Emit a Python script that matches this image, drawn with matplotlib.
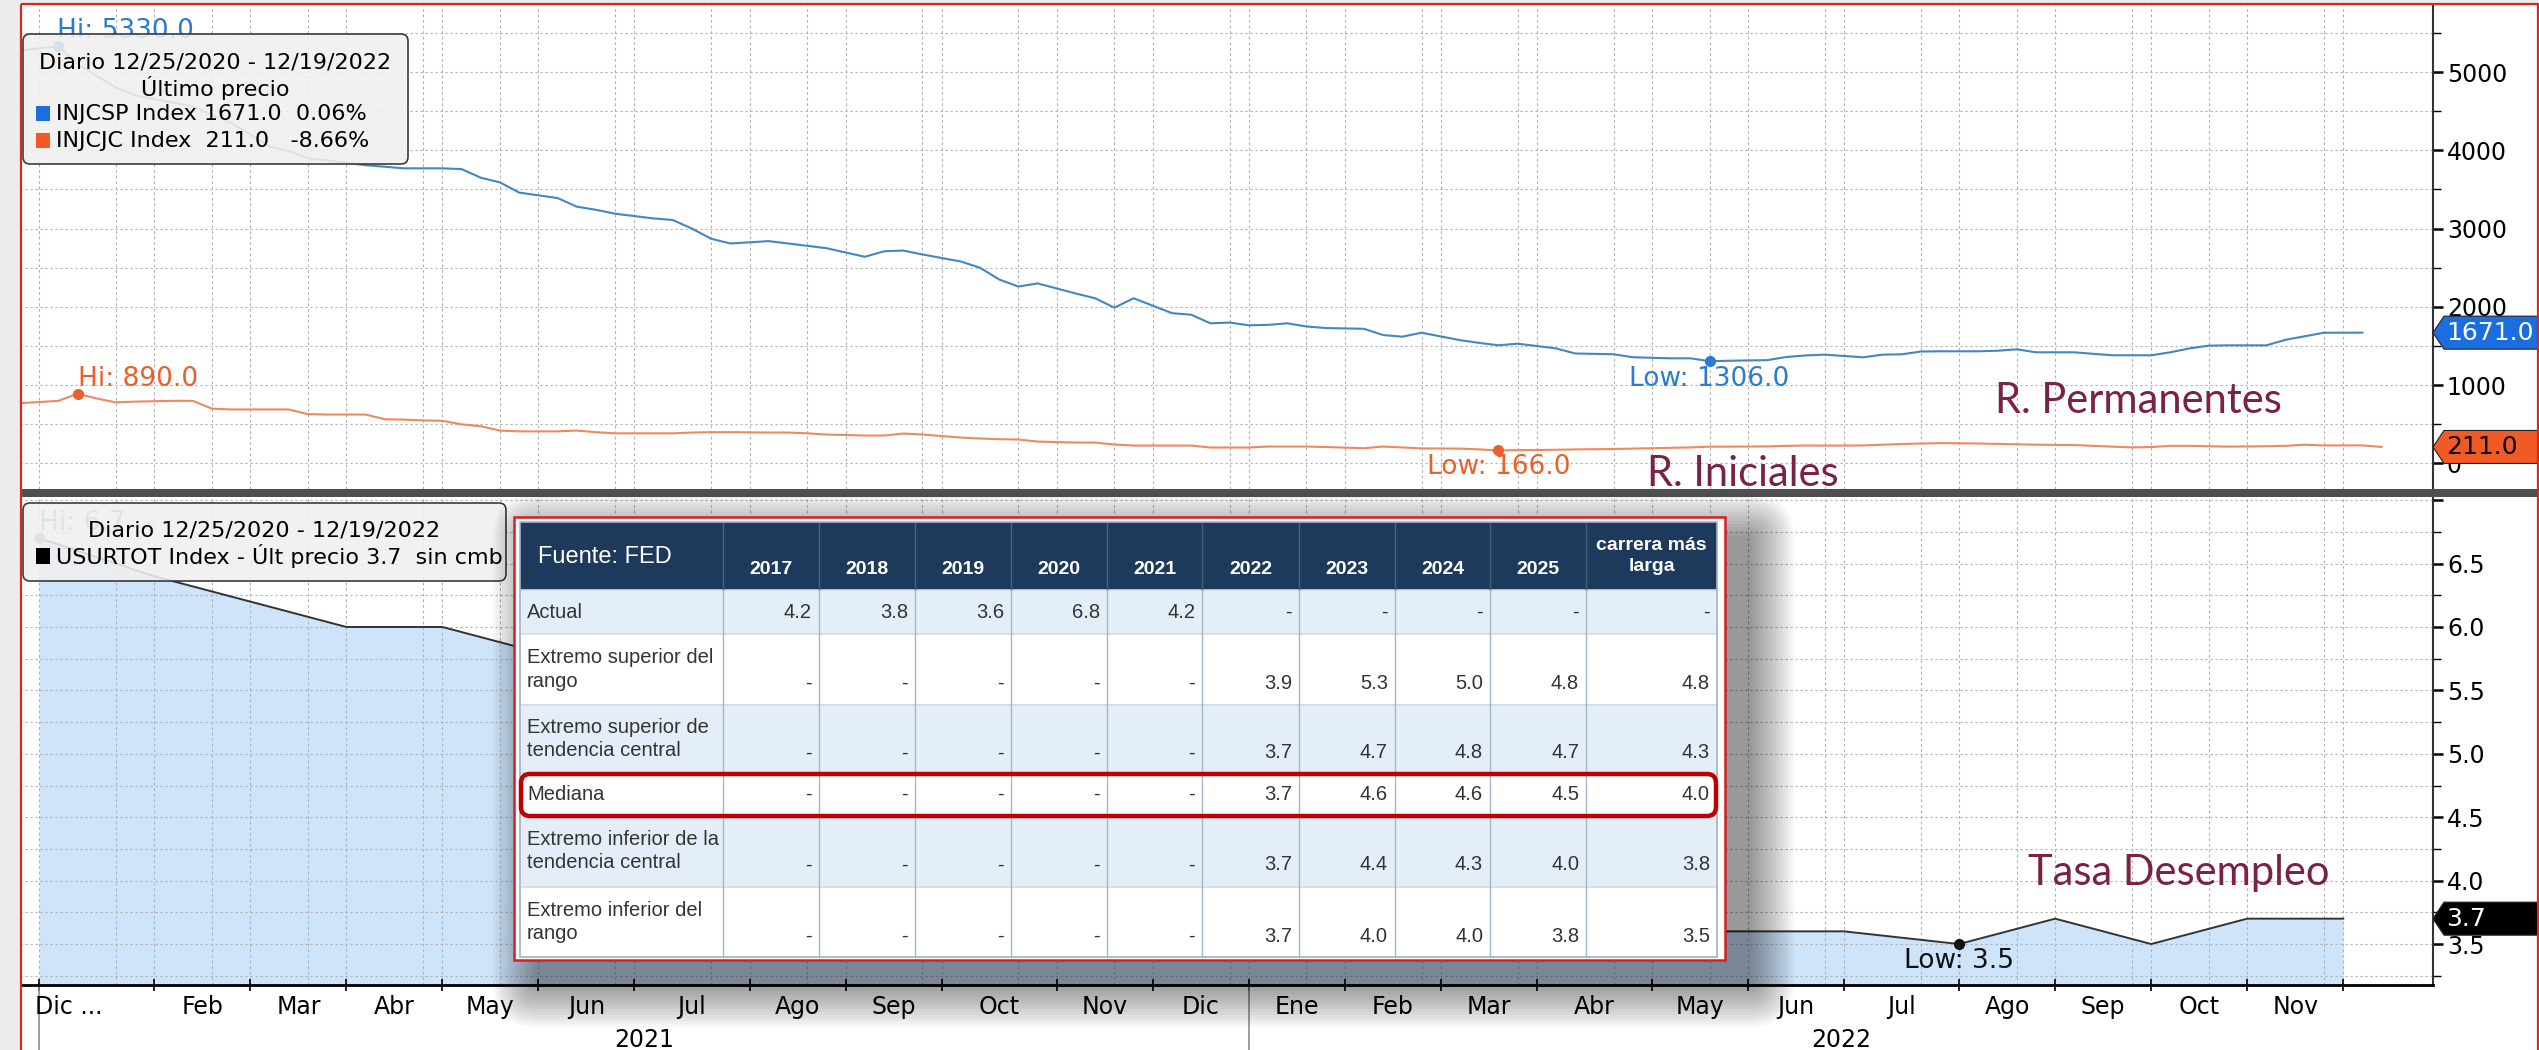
import datetime as dt
import numpy as np
import matplotlib
matplotlib.use("Agg")
import matplotlib.pyplot as plt
from matplotlib.patches import Rectangle, FancyBboxPatch, Polygon
from matplotlib.ticker import MultipleLocator, FixedLocator, FuncFormatter

W, H = 2539, 1050

# ---------------------------------------------------------------- datos
START = dt.date(2020, 12, 25)
END = dt.date(2022, 12, 19)

# INJCSP Index (reclamos permanentes, miles) - semanal, viernes desde 25/12/2020
injcsp = [
    5275, 5330, 5100, 4950, 4800, 4700, 4610, 4560, 4450, 4350,
    4050, 3990, 3900, 3870, 3810, 3790, 3770, 3770, 3770, 3760,
    3650, 3590, 3460, 3390, 3280, 3240, 3190, 3130, 3110, 3000,
    2870, 2810, 2840, 2810, 2780, 2750, 2640, 2710, 2720, 2670,
    2580, 2500, 2350, 2260, 2300, 2170, 2110, 1990, 2110, 1920,
    1900, 1790, 1800, 1765, 1770, 1790, 1750, 1730, 1720, 1640,
    1620, 1670, 1575, 1540, 1510, 1530, 1470, 1405, 1400, 1395,
    1357, 1343, 1343, 1306, 1312, 1320, 1360, 1380, 1390, 1356,
    1390, 1394, 1430, 1433, 1433, 1440, 1458, 1420, 1420, 1400,
    1382, 1382, 1382, 1420, 1470, 1505, 1509, 1509, 1580, 1625,
    1670, 1671,
]
# INJCJC Index (reclamos iniciales, miles) - semanal, viernes desde 25/12/2020
injcjc = [
    770, 800, 890, 830, 780, 790, 800, 800, 700, 690,
    690, 690, 630, 625, 625, 565, 560, 550, 545, 500,
    475, 420, 410, 410, 420, 400, 385, 385, 385, 395,
    400, 400, 395, 395, 385, 370, 357, 357, 382, 370,
    331, 319, 310, 306, 280, 267, 267, 242, 229, 229,
    229, 204, 204, 204, 216, 216, 216, 210, 195, 216,
    205, 192, 190, 180, 166, 170, 175, 180, 182, 185,
    190, 200, 205, 215, 215, 218, 225, 230, 228, 230,
    240, 248, 255, 260, 255, 250, 245, 240, 235, 225,
    215, 205, 210, 225, 225, 220, 215, 220, 225, 240,
    230, 231, 211,
]
# USURTOT Index (tasa de desempleo, %) - mensual, fin de mes desde dic-2020
usurtot = [6.7, 6.4, 6.2, 6.0, 6.0, 5.8, 5.9, 5.4, 5.2, 4.7, 4.5, 4.2,
           3.9, 4.0, 3.8, 3.6, 3.6, 3.6, 3.6, 3.5, 3.7, 3.5, 3.7, 3.7]

month_names = ["Ene", "Feb", "Mar", "Abr", "May", "Jun",
               "Jul", "Ago", "Sep", "Oct", "Nov", "Dic"]

# Proyecciones FED de la tasa de desempleo
fed_cols = ["2017", "2018", "2019", "2020", "2021", "2022", "2023", "2024",
            "2025", "carrera más\nlarga"]
fed_labels = ["Actual", "Extremo superior del\nrango",
              "Extremo superior de\ntendencia central", "Mediana",
              "Extremo inferior de la\ntendencia central",
              "Extremo inferior del\nrango"]
fed_actual = [4.2, 3.8, 3.6, 6.8, 4.2, None, None, None, None, None]
fed_sup_rango = [None] * 5 + [3.9, 5.3, 5.0, 4.8, 4.8]
fed_sup_tend = [None] * 5 + [3.7, 4.7, 4.8, 4.7, 4.3]
fed_mediana = [None] * 5 + [3.7, 4.6, 4.6, 4.5, 4.0]
fed_inf_tend = [None] * 5 + [3.7, 4.4, 4.3, 4.0, 3.8]
fed_inf_rango = [None] * 5 + [3.7, 4.0, 4.0, 3.8, 3.5]
fed_rows = [fed_actual, fed_sup_rango, fed_sup_tend, fed_mediana,
            fed_inf_tend, fed_inf_rango]


# ------------------------------------------- calendario de observaciones
def month_end(d):
    nxt = d.replace(day=28) + dt.timedelta(days=4)
    return nxt - dt.timedelta(days=nxt.day)


cal = {END}
d = START
while d <= END:
    if d.weekday() == 4 or d == month_end(d):
        cal.add(d)
    d += dt.timedelta(days=1)
cal = sorted(cal)
pos = {d: i for i, d in enumerate(cal)}
fridays = [d for d in cal if d.weekday() == 4]
month_ends = [d for d in cal if d == month_end(d)]

x_csp = [pos[d] for d in fridays[:len(injcsp)]]
x_cjc = [pos[d] for d in fridays[:len(injcjc)]]
x_ur = [pos[d] for d in month_ends[:len(usurtot)]]
month_ticks = [pos[d] for d in month_ends]
mid_ticks = [pos[d] for d in fridays if 19 <= d.day <= 25]

# ------------------------------------------------------------- estilo
TABLE_FONT = "Liberation Sans"
ANNOT = "Lato"

BLUE_LINE = "#4387c2"
BLUE_TXT = "#2b7bd1"
ORANGE_LINE = "#ec8a5e"
ORANGE_TXT = "#e8612c"
MAROON = "#7a2146"
GRID = "#b2b2b2"

fig = plt.figure(figsize=(W / 100, H / 100), dpi=100)
fig.patch.set_facecolor("white")

AX_L, AX_R = 20, 2433


def frect(x0, y0, x1, y1):
    return [x0 / W, 1 - y1 / H, (x1 - x0) / W, (y1 - y0) / H]


ax1 = fig.add_axes(frect(AX_L, 5, AX_R, 489))
ax2 = fig.add_axes(frect(AX_L, 497, AX_R, 985), sharex=ax1)

ax1.set_xlim(0, (AX_R - AX_L) / 19.2)
ax1.set_ylim(-326, 5856)
ax2.set_ylim(3.177, 7.025)

for ax in (ax1, ax2):
    ax.set_facecolor("white")
    for s in ("left", "top"):
        ax.spines[s].set_visible(False)
    ax.spines["right"].set_color("#333333")
    ax.spines["right"].set_linewidth(1.5)
    ax.yaxis.tick_right()
    for x in month_ticks + mid_ticks:
        ax.axvline(x, color=GRID, ls=(0, (2.5, 2.5)), lw=0.8, zorder=1.5)
ax1.spines["bottom"].set_visible(False)
ax2.spines["bottom"].set_color("black")
ax2.spines["bottom"].set_linewidth(2)

# panel superior: reclamos
for v in np.arange(0, 6000, 500):
    ax1.axhline(v, color=GRID, ls=(0, (2, 2.5)), lw=0.8, zorder=1.5)
ax1.plot(x_csp, injcsp, color=BLUE_LINE, lw=1.5, zorder=3)
ax1.plot(x_cjc, injcjc, color=ORANGE_LINE, lw=1.5, zorder=3)
ax1.yaxis.set_major_locator(MultipleLocator(1000))
ax1.yaxis.set_minor_locator(MultipleLocator(500))
ax1.yaxis.set_major_formatter(FuncFormatter(lambda v, p: f"{v:.0f}"))
ax1.tick_params(axis="x", which="both", bottom=False, labelbottom=False)

# panel inferior: desempleo
for v in np.arange(3.25, 7.01, 0.25):
    ax2.axhline(v, color=GRID, ls=(0, (2, 2.5)), lw=0.8, zorder=1.5)
ax2.fill_between(x_ur, usurtot, 0, color="#cde4fb", lw=0, zorder=1)
ax2.plot(x_ur, usurtot, color="#333333", lw=1.4, zorder=3)
ax2.yaxis.set_major_locator(FixedLocator(np.arange(3.5, 7.01, 0.5)))
ax2.yaxis.set_minor_locator(MultipleLocator(0.25))
ax2.yaxis.set_major_formatter(FuncFormatter(lambda v, p: "" if v > 6.9 else f"{v:.1f}"))
ax2.set_xticks(month_ticks)
ax2.tick_params(axis="x", which="major", length=8, width=1.2, direction="inout",
                labelbottom=False)

for ax in (ax1, ax2):
    ax.tick_params(axis="y", which="major", length=7, width=1.8, pad=3,
                   labelsize=17, colors="black")
    ax.tick_params(axis="y", which="minor", length=6, width=1.0)

# etiquetas de meses y años
xt = ax2.get_xaxis_transform()
ax2.text(month_ticks[0] - 0.2, -0.045, "Dic ...", transform=xt, ha="left",
         va="center", fontsize=17)
for a, b in zip(month_ends[1:-1], month_ends[2:]):
    ax2.text((pos[a] + pos[b]) / 2, -0.045, month_names[b.month - 1],
             transform=xt, ha="center", va="center", fontsize=17)
year_starts = [pos[d] for d in month_ends if d.month == 12]
year_bounds = year_starts + [ax1.get_xlim()[1]]
for i, x0 in enumerate(year_starts):
    ax2.plot([x0, x0], [0, -0.15], transform=xt, clip_on=False,
             color="#8c8c8c", lw=1.2)
    ax2.text((x0 + year_bounds[i + 1]) / 2, -0.113, str(month_ends[0].year + 1 + i),
             transform=xt, ha="center", va="center", fontsize=17)


# máximos y mínimos
def mark(ax, xs, ys, fn, label, color, dy, ha, va, dx=0):
    i = int(fn(ys))
    ax.plot(xs[i], ys[i], "o", ms=7, color=color, zorder=4)
    ax.annotate(f"{label}: {ys[i]:.1f}", xy=(xs[i], ys[i]), xytext=(dx, dy),
                textcoords="offset pixels", ha=ha, va=va, color=color,
                fontsize=19, zorder=4)


mark(ax1, x_csp, injcsp, np.argmax, "Hi", BLUE_TXT, 8, "left", "baseline", -1)
mark(ax1, x_csp, injcsp, np.argmin, "Low", BLUE_TXT, -5, "center", "top")
mark(ax1, x_cjc, injcjc, np.argmax, "Hi", ORANGE_TXT, 8, "left", "baseline")
mark(ax1, x_cjc, injcjc, np.argmin, "Low", ORANGE_TXT, -4, "center", "top")
mark(ax2, x_ur, usurtot, np.argmax, "Hi", "#858585", 8, "left", "baseline")
mark(ax2, x_ur, usurtot, np.argmin, "Low", "#111111", -4, "center", "top")


# etiquetas de último valor en el eje
def tag(ax, val, txt, fc, tc):
    b = ax.get_position()
    hpx, wpx = b.height * H, b.width * W
    y0, y1 = ax.get_ylim()
    hh = 16.5 * (y1 - y0) / hpx
    fx = lambda px: 1 + px / wpx
    ax.add_patch(Polygon([(1, val), (fx(11), val + hh), (fx(112), val + hh),
                          (fx(112), val - hh), (fx(11), val - hh)],
                         closed=True, transform=ax.get_yaxis_transform(),
                         clip_on=False, fc=fc, ec="#222222", lw=0.8, zorder=6))
    ax.text(fx(13), val, txt, transform=ax.get_yaxis_transform(), ha="left",
            va="center", color=tc, fontsize=18, zorder=7, clip_on=False)


tag(ax1, injcsp[-1], f"{injcsp[-1]:.1f}", "#1a6ee0", "white")
tag(ax1, injcjc[-1], f"{injcjc[-1]:.1f}", "#f15a24", "black")
tag(ax2, usurtot[-1], f"{usurtot[-1]:.1f}", "black", "white")

# -------------------------------------------------- capa superpuesta (px)
ov = fig.add_axes([0, 0, 1, 1])
ov.set_zorder(5)
ov.set_xlim(0, W)
ov.set_ylim(H, 0)
ov.axis("off")

ov.add_patch(Rectangle((0, 0), 20, H, fc="#ececec", lw=0))
ov.add_patch(Rectangle((0, 0), W, 4, fc="#ececec", lw=0))
ov.add_patch(Rectangle((20, 489), W - 20, 8, fc="#4f4f4f", lw=0))
ov.add_patch(Rectangle((20.5, 4), W - 22, H + 20, fill=False, ec="#e02424", lw=1.6))

# leyendas
LEG_FC = (0.94, 0.94, 0.94, 0.88)
ov.add_patch(FancyBboxPatch((23, 34), 385, 130, boxstyle="round,pad=0,rounding_size=7",
                            fc=LEG_FC, ec="#3c3c3c", lw=1.2))
ov.text(215, 62, "Diario 12/25/2020 - 12/19/2022", ha="center", va="center", fontsize=16)
ov.text(215, 88, "Último precio", ha="center", va="center", fontsize=16)
ch_csp = (injcsp[-1] / injcsp[-2] - 1) * 100
ch_cjc = (injcjc[-1] / injcjc[-2] - 1) * 100
ov.add_patch(Rectangle((36, 106), 14, 15, fc="#1a6ee0", lw=0))
ov.text(56, 114, f"INJCSP Index {injcsp[-1]:.1f}  {ch_csp:.2f}%", ha="left",
        va="center", fontsize=16)
ov.add_patch(Rectangle((36, 133), 14, 15, fc="#f15a24", lw=0))
ov.text(56, 141, f"INJCJC Index  {injcjc[-1]:.1f}   {ch_cjc:.2f}%", ha="left",
        va="center", fontsize=16)

ov.add_patch(FancyBboxPatch((23, 503), 483, 78, boxstyle="round,pad=0,rounding_size=7",
                            fc=LEG_FC, ec="#3c3c3c", lw=1.2))
ov.text(264, 530, "Diario 12/25/2020 - 12/19/2022", ha="center", va="center", fontsize=16)
ov.add_patch(Rectangle((36, 548), 14, 16, fc="black", lw=0))
ov.text(56, 556, f"USURTOT Index - Últ precio {usurtot[-1]:.1f}  sin cmb", ha="left",
        va="center", fontsize=16)

# notas
ov.text(1995, 413, "R. Permanentes", color=MAROON, family=ANNOT, fontsize=30, va="baseline")
ov.text(1647, 486, "R. Iniciales", color=MAROON, family=ANNOT, fontsize=30, va="baseline")
ov.text(2028, 885, "Tasa Desempleo", color=MAROON, family=ANNOT, fontsize=30, va="baseline")

# tabla FED con sombra
TX0, TY0, TX1, TY1 = 514, 517, 1725, 960
for k in range(1, 16):
    e = 3 * k
    ov.add_patch(FancyBboxPatch((TX0 + 24, TY0 + 22), TX1 - TX0, TY1 - TY0,
                                boxstyle=f"round,pad={e},rounding_size={e}",
                                fc="black", alpha=0.03, lw=0, zorder=1))
ov.add_patch(Rectangle((TX0, TY0), TX1 - TX0, TY1 - TY0, fc="white",
                       ec="#d42020", lw=1.8, zorder=2))

col_x = [520, 723, 819, 915, 1011, 1107, 1202, 1299, 1395, 1490, 1586, 1717]
row_y = [522, 590, 634, 705, 773, 815, 887, 957]
row_fc = ["#e4eef9", "white"]

ov.add_patch(Rectangle((col_x[0], row_y[0]), col_x[-1] - col_x[0], row_y[1] - row_y[0],
                       fc="#1d3a5c", lw=0, zorder=3))
for r in range(len(fed_rows)):
    ov.add_patch(Rectangle((col_x[0], row_y[r + 1]), col_x[-1] - col_x[0],
                           row_y[r + 2] - row_y[r + 1], fc=row_fc[r % 2],
                           ec="#d3dbe4", lw=1.2, zorder=3))
for x in col_x[1:-1]:
    ov.plot([x, x], [row_y[0], row_y[1]], color="#46607e", lw=1, zorder=4)
    ov.plot([x, x], [row_y[1], row_y[-1]], color="#a3b6ca", lw=1, zorder=4)
ov.add_patch(Rectangle((col_x[0], row_y[0]), col_x[-1] - col_x[0], row_y[-1] - row_y[0],
                       fill=False, ec="#a3b6ca", lw=1.2, zorder=4))

ov.text(538, 557, "Fuente: FED", color="white", family=TABLE_FONT, fontsize=17,
        ha="left", va="center", zorder=5)
for j, c in enumerate(fed_cols):
    cx = (col_x[j + 1] + col_x[j + 2]) / 2
    two = "\n" in c
    ov.text(cx, 556 if two else 569, c, color="white", family=TABLE_FONT,
            fontsize=14, fontweight="bold", ha="center", va="center",
            linespacing=1.3, zorder=5)

for r, (lab, vals) in enumerate(zip(fed_labels, fed_rows)):
    cy = (row_y[r + 1] + row_y[r + 2]) / 2
    two = "\n" in lab
    ov.text(527, cy, lab, color="#333333", family=TABLE_FONT, fontsize=14.5,
            ha="left", va="center", linespacing=1.3, zorder=5)
    vy = cy + 14 if two else cy
    for j, v in enumerate(vals):
        ov.text(col_x[j + 2] - 7, vy, "-" if v is None else f"{v:.1f}",
                color="#333333", family=TABLE_FONT, fontsize=14.5,
                ha="right", va="center", zorder=5)

med = fed_labels.index("Mediana") + 1
ov.add_patch(FancyBboxPatch((col_x[0] + 1, row_y[med] + 1), col_x[-1] - col_x[0] - 2,
                            row_y[med + 1] - row_y[med],
                            boxstyle="round,pad=0,rounding_size=9", fill=False,
                            ec="#c00000", lw=3.2, zorder=6))

fig.savefig("out.png", dpi=100, facecolor="white")
